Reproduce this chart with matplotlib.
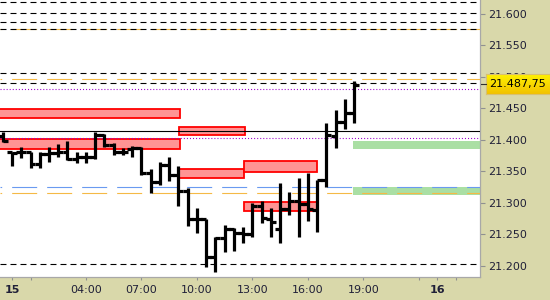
import numpy as np
import matplotlib.pyplot as plt
from matplotlib.patches import Rectangle
from matplotlib.colors import LinearSegmentedColormap

plt.rcParams['lines.scale_dashes'] = False
plt.rcParams['font.family'] = 'DejaVu Sans'

# bar times, hours from 15 00:00 (half hour bars)
bar_hours = [-0.5, 0.0, 0.5, 1.0, 1.5, 2.0, 2.5, 3.0, 3.5, 4.0,
             4.5, 5.0, 5.5, 6.0, 6.5, 7.0, 7.5, 8.0, 8.5, 9.0,
             9.5, 10.0, 10.5, 11.0, 11.5, 12.0, 12.5, 13.0, 13.5, 14.0,
             14.5, 15.0, 15.5, 16.0, 16.5, 17.0, 17.5, 18.0, 18.5]
opens = [21.406, 21.380, 21.380, 21.380, 21.362, 21.377, 21.379, 21.381, 21.370, 21.373,
         21.372, 21.408, 21.392, 21.380, 21.3855, 21.387, 21.347, 21.333, 21.360, 21.344,
         21.319, 21.274, 21.274, 21.214, 21.2435, 21.258, 21.2525, 21.250, 21.2955, 21.2735,
         21.258, 21.290, 21.303, 21.298, 21.289, 21.336, 21.4065, 21.429, 21.443]
highs = [21.413, 21.381, 21.389, 21.380, 21.381, 21.389, 21.393, 21.398, 21.380, 21.380,
         21.4125, 21.410, 21.3945, 21.387, 21.390, 21.388, 21.353, 21.365, 21.372, 21.3585,
         21.323, 21.291, 21.274, 21.245, 21.265, 21.2595, 21.262, 21.299, 21.303, 21.291,
         21.331, 21.3175, 21.340, 21.347, 21.336, 21.426, 21.4475, 21.465, 21.4935]
lows = [21.397, 21.359, 21.371, 21.356, 21.356, 21.365, 21.373, 21.368, 21.364, 21.364,
        21.370, 21.389, 21.3755, 21.376, 21.372, 21.344, 21.316, 21.328, 21.335, 21.295,
        21.263, 21.2515, 21.1985, 21.1905, 21.222, 21.2235, 21.236, 21.246, 21.2675, 21.246,
        21.2355, 21.2805, 21.246, 21.2715, 21.254, 21.3255, 21.3865, 21.418, 21.4265]
closes = [21.398, 21.379, 21.380, 21.362, 21.377, 21.379, 21.381, 21.370, 21.373, 21.372,
          21.408, 21.392, 21.380, 21.381, 21.387, 21.347, 21.333, 21.360, 21.344, 21.319,
          21.274, 21.274, 21.214, 21.2435, 21.258, 21.2525, 21.250, 21.2955, 21.276, 21.269,
          21.290, 21.303, 21.298, 21.290, 21.336, 21.408, 21.429, 21.443, 21.48775]

# horizontal levels
black_dashed = [21.6195, 21.601, 21.587, 21.5757, 21.5058, 21.490, 21.2023]
orange_dashed = [21.5757, 21.4962, 21.315]
blue_dashed = [21.3245]
purple_dotted = [21.4803, 21.4022]
black_solid = [21.4136]

# zones: start hour, end hour, low, high
red_zones = [(-1.0, 9.07, 21.4343, 21.4486),
             (-1.0, 9.07, 21.3855, 21.4009),
             (9.02, 12.58, 21.4082, 21.4209),
             (9.02, 12.56, 21.3400, 21.3536),
             (12.56, 16.51, 21.3486, 21.3667),
             (12.56, 16.51, 21.2865, 21.3008)]
green_zones = [(18.42, 27.0, 21.3859, 21.3974),
               (18.42, 27.0, 21.3124, 21.3255)]

price_ticks = [21.20, 21.25, 21.30, 21.35, 21.40, 21.45, 21.50, 21.55, 21.60]
price_labels = ['21.200', '21.250', '21.300', '21.350', '21.400', '21.450', '21.500', '21.550', '21.600']
time_ticks = [0, 4, 7, 10, 13, 16, 19, 23]
time_labels = ['15', '04:00', '07:00', '10:00', '13:00', '16:00', '19:00', '16']
minor_time_ticks = [1, 22, 24]
last_label = '21.487,75'

beige = '#d9d8aa'
txt = '#202038'

fig = plt.figure(figsize=(5.5, 3), dpi=100, facecolor=beige)
ax = fig.add_axes([0, 23 / 300, 480 / 550, 277 / 300])
ax.set_facecolor('white')
ax.set_xlim(-0.649, 25.30)
ax.set_ylim(21.1821, 21.6222)

for z in red_zones:
    ax.add_patch(Rectangle((z[0], z[2]), z[1] - z[0], z[3] - z[2],
                           facecolor='#ff9494', edgecolor='#ff0000', lw=1.3, zorder=2))
for z in green_zones:
    ax.add_patch(Rectangle((z[0], z[2]), z[1] - z[0], z[3] - z[2],
                           facecolor='#aadfa4', edgecolor='none', lw=0, zorder=1))

for p in orange_dashed:
    ax.axhline(p, color='#f5b946', lw=0.8, ls=(16.8, (18, 7.2)), zorder=3)
for p in blue_dashed:
    ax.axhline(p, color='#6a9af0', lw=0.8, ls=(16.8, (18, 7.2)), zorder=3)
for p in black_dashed:
    ax.axhline(p, color='black', lw=0.8, ls=(0, (4.3, 2.9)), zorder=3)
for p in purple_dotted:
    ax.axhline(p, color='#9a00cc', lw=0.8, ls=(0, (0.75, 1.45)), zorder=3)
for p in black_solid:
    ax.axhline(p, color='black', lw=0.8, zorder=3)

# OHLC bars
t = np.array(bar_hours)
ax.vlines(t, lows, highs, color='black', lw=2.3, zorder=5)
ax.hlines(opens, t - 0.27, t, color='black', lw=2.3, zorder=5)
ax.hlines(closes, t, t + 0.27, color='black', lw=2.3, zorder=5)

# axes styling
for s in ['top', 'left']:
    ax.spines[s].set_visible(False)
for s in ['right', 'bottom']:
    ax.spines[s].set_color('#a8a8a8')
    ax.spines[s].set_linewidth(0.9)

ax.yaxis.tick_right()
ax.set_yticks(price_ticks)
ax.set_yticklabels(price_labels)
ax.tick_params(axis='y', length=3.3, width=0.8, color='#909090', pad=2.5,
               labelsize=8, labelcolor=txt)

ax.set_xticks(time_ticks)
ax.set_xticklabels(time_labels)
ax.set_xticks(minor_time_ticks, minor=True)
ax.tick_params(axis='x', which='both', length=2.5, width=0.8, color='#909090', pad=3,
               labelsize=8, labelcolor=txt)
for lab in ax.get_xticklabels():
    if lab.get_text() in ('15', '16'):
        lab.set_fontweight('bold')

# last price marker
bax = fig.add_axes([486 / 550, 1 - 94 / 300, 64 / 550, 20 / 300])
grad = np.linspace(0, 1, 50).reshape(-1, 1)
cm = LinearSegmentedColormap.from_list('y', ['#fff200', '#f2c200'])
bax.imshow(grad, aspect='auto', cmap=cm, extent=[0, 1, 0, 1], origin='upper')
bax.set_xlim(0, 1)
bax.set_ylim(0, 1)
bax.set_xticks([])
bax.set_yticks([])
for s in bax.spines.values():
    s.set_color('#d8c070')
    s.set_linewidth(0.8)
bax.text(0.05, 0.48, last_label, fontsize=8, color='black', va='center', ha='left')
fig.add_artist(plt.Line2D([481 / 550, 486 / 550], [1 - 84 / 300, 1 - 84 / 300],
                          color='#303030', lw=0.8))

fig.savefig('out.png', dpi=100, facecolor=beige)
